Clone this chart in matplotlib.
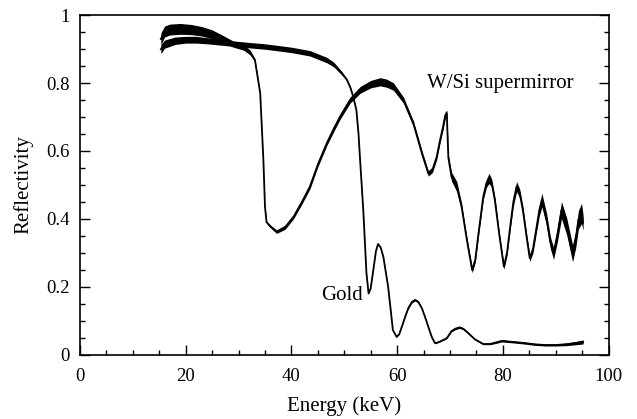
import numpy as np
import matplotlib
matplotlib.use("Agg")
import matplotlib.pyplot as plt
from matplotlib.ticker import MultipleLocator

plt.rcParams['font.family'] = ['Liberation Serif', 'DejaVu Serif']

# W/Si supermirror: energy (keV), reflectivity (centre), noise half-width
sm_E = [15.3, 16, 17, 19, 21, 23, 25, 27, 29, 31, 32.2, 33.1, 34.1, 34.7, 35.0, 35.3,
        36, 37.2, 38.8, 40.4, 42, 43.5, 45, 46.7, 48, 49.2, 51.1, 53.0, 55, 56.8, 58,
        59.3, 61.2, 63.1, 64.7, 65.9, 66.7, 67.5, 68.1, 68.7, 69.1, 69.4, 69.7, 70.3,
        71.3, 72.2, 73.2, 74.2, 74.8, 75.4, 76.3, 76.9, 77.4, 77.9, 78.5, 79.3, 80.2,
        80.8, 81.4, 82.0, 82.6, 83.2, 83.8, 84.5, 85.1, 85.7, 86.3, 86.9, 87.4, 88.3,
        89.0, 89.6, 90.3, 91.1, 92.1, 93.2, 93.8, 94.3, 94.9, 95.2]
sm_R = [0.93, 0.952, 0.958, 0.96, 0.958, 0.953, 0.944, 0.93, 0.915, 0.905, 0.89,
        0.868, 0.77, 0.573, 0.436, 0.39, 0.378, 0.362, 0.375, 0.406, 0.45, 0.495,
        0.56, 0.623, 0.665, 0.701, 0.75, 0.78, 0.797, 0.804, 0.8, 0.79, 0.75, 0.68,
        0.593, 0.534, 0.545, 0.583, 0.63, 0.672, 0.705, 0.711, 0.58, 0.524, 0.495,
        0.436, 0.338, 0.249, 0.28, 0.357, 0.465, 0.505, 0.519, 0.505, 0.455, 0.357,
        0.259, 0.3, 0.377, 0.45, 0.495, 0.475, 0.426, 0.347, 0.284, 0.31, 0.367, 0.425,
        0.455, 0.397, 0.33, 0.298, 0.35, 0.426, 0.377, 0.298, 0.34, 0.397, 0.416, 0.388]
sm_noise = [0.018, 0.016, 0.016, 0.016, 0.015, 0.014, 0.013, 0.011, 0.009, 0.008, 0.007,
            0.004, 0.002, 0.002, 0.002, 0.003, 0.004, 0.005, 0.006, 0.006, 0.006,
            0.007, 0.007, 0.007, 0.008, 0.008, 0.009, 0.01, 0.011, 0.012, 0.012, 0.011,
            0.009, 0.008, 0.008, 0.008, 0.008, 0.008, 0.008, 0.009, 0.01, 0.01, 0.008,
            0.013, 0.015, 0.01, 0.008, 0.008, 0.008, 0.008, 0.009, 0.012, 0.015, 0.012,
            0.01, 0.008, 0.008, 0.008, 0.009, 0.012, 0.015, 0.013, 0.011, 0.01, 0.01,
            0.011, 0.013, 0.017, 0.02, 0.018, 0.017, 0.018, 0.02, 0.025, 0.025, 0.025,
            0.025, 0.027, 0.03, 0.022]

# Gold: energy (keV), reflectivity (centre), noise half-width
au_E = [15.3, 16, 18, 20, 22, 24, 26, 28, 30, 32, 35, 38, 40, 43.5, 46.7, 48, 49.5,
        50.5, 51.2, 51.7, 52.3, 52.7, 53.0, 53.6, 54.2, 54.6, 55.0, 55.5, 56.0, 56.4,
        56.9, 57.4, 58.3, 58.8, 59.2, 59.9, 60.4, 60.9, 61.5, 62.1, 62.8, 63.4, 64.0,
        64.7, 65.3, 65.9, 66.6, 67.2, 68.1, 69.4, 70.3, 71.0, 71.8, 72.5, 73.2, 74.7,
        76.3, 77.6, 78.8, 79.8, 82.0, 84, 86, 88, 90, 92, 94, 95.2]
au_R = [0.9, 0.915, 0.925, 0.928, 0.928, 0.925, 0.922, 0.918, 0.915, 0.912, 0.908,
        0.902, 0.898, 0.888, 0.868, 0.855, 0.83, 0.81, 0.785, 0.76, 0.72, 0.65, 0.573,
        0.426, 0.24, 0.18, 0.195, 0.249, 0.305, 0.326, 0.315, 0.288, 0.2, 0.13, 0.072,
        0.052, 0.06, 0.082, 0.11, 0.136, 0.155, 0.161, 0.155, 0.136, 0.11, 0.082,
        0.05, 0.033, 0.038, 0.048, 0.069, 0.076, 0.08, 0.076, 0.067, 0.045, 0.031,
        0.031, 0.036, 0.040, 0.037, 0.034, 0.03, 0.028, 0.028, 0.03, 0.034, 0.037]
au_noise = [0.013, 0.012, 0.011, 0.01, 0.01, 0.009, 0.009, 0.008, 0.008, 0.008, 0.008,
            0.008, 0.008, 0.008, 0.008, 0.007, 0.005, 0.003, 0.002, 0.001, 0.001,
            0.001, 0.001, 0.001, 0.001, 0.001, 0.001, 0.001, 0.001, 0.001, 0.001,
            0.001, 0.001, 0.001, 0.001, 0.001, 0.001, 0.001, 0.001, 0.002, 0.003,
            0.003, 0.003, 0.002, 0.001, 0.001, 0.001, 0.001, 0.001, 0.001, 0.002,
            0.003, 0.003, 0.003, 0.003, 0.002, 0.002, 0.002, 0.003, 0.003, 0.003,
            0.003, 0.003, 0.003, 0.003, 0.004, 0.005, 0.006]

fig = plt.figure(figsize=(6.37, 4.19), dpi=100)
ax = fig.add_axes([80/637, 1 - 354.5/419, (608.5-80)/637, (354.5-15.3)/419])

for E, R, n in ((sm_E, sm_R, sm_noise), (au_E, au_R, au_noise)):
    E = np.asarray(E); R = np.asarray(R); n = np.asarray(n)
    ax.fill_between(E, R - n, R + n, color='black', lw=0)
    ax.plot(E, R, color='black', lw=1.3, solid_joinstyle='round')

ax.set_xlim(0, 100)
ax.set_ylim(0, 1)
ax.xaxis.set_minor_locator(MultipleLocator(5))
ax.yaxis.set_minor_locator(MultipleLocator(0.05))
ax.set_xticks([0, 20, 40, 60, 80, 100], ['0', '20', '40', '60', '80', '100'])
ax.set_yticks([0, 0.2, 0.4, 0.6, 0.8, 1], ['0', '0.2', '0.4', '0.6', '0.8', '1'])
ax.tick_params(which='both', direction='in', top=False, right=True,
               labelsize=13.5, width=1.0, colors='black')
ax.tick_params(which='major', length=7)
ax.tick_params(which='minor', length=3.5)
ax.tick_params(axis='x', which='major', pad=10)
ax.tick_params(axis='y', which='major', pad=7.5)
for s in ax.spines.values():
    s.set_linewidth(1.2)

ax.set_xlabel('Energy (keV)', fontsize=15, va='center')
ax.set_ylabel('Reflectivity', fontsize=15, va='center')
ax.xaxis.set_label_coords(0.5, (354.5 - 406) / 339.2)
ax.yaxis.set_label_coords((23 - 80) / 528.5, 0.5)

ax.text(65.6, 0.785, 'W/Si supermirror', fontsize=15, ha='left', va='baseline')
ax.text(45.55, 0.161, 'Gold', fontsize=15, ha='left', va='baseline')

fig.savefig('out.png', dpi=100)
